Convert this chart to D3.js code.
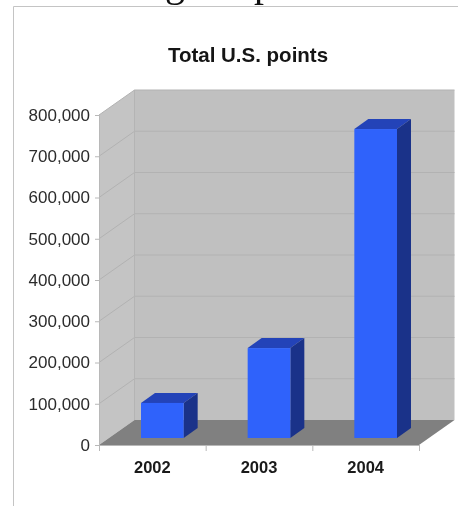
<!DOCTYPE html>
<html>
<head>
<meta charset="utf-8">
<script src="https://cdn.jsdelivr.net/npm/d3@7"></script>
<style>
html, body { margin: 0; padding: 0; background: #fff; overflow: hidden; }
#vis_container { width: 458px; height: 506px; }
</style>
</head>
<body>
<div id="vis_container"></div>
<script>
var years = ["2002", "2003", "2004"];
var points = [85000, 218000, 749000];
var yTicks = [0, 100000, 200000, 300000, 400000, 500000, 600000, 700000, 800000];
var chartTitle = "Total U.S. points";
// what is left of the slide heading, cut off by the top of the picture
var headingLetters = ["g", "p"];

var chart = {};
chart.width = 458;
chart.height = 506;
chart.left = 99;
chart.right = 419;
chart.bottom = 445;
chart.top = 115;
// depth of the box and of the bars, in pixels
chart.depth = {"x": 35.5, "y": 25};
chart.barDepth = {"x": 14, "y": 10};
chart.barInset = {"x": 10, "y": 7};

chart.svg = d3.select("#vis_container").append("svg")
	.attr("width", chart.width)
	.attr("height", chart.height)
	.style("display", "block")
	.style("filter", "blur(0.5px)");

chart.xScale = d3.scaleBand()
	.domain(years)
	.range([chart.left, chart.right])
	.paddingInner(0.6)
	.paddingOuter(0.3);

chart.yScale = d3.scaleLinear()
	.domain([0, 800000])
	.range([chart.bottom, chart.top]);

chart.headingScale = d3.scalePoint()
	.domain(headingLetters)
	.range([165, 254]);

function poly(pts) {
	return pts.map(function(p) { return p.join(","); }).join(" ");
}

chart.svg.selectAll(".heading")
	.data(headingLetters)
	.enter().append("text")
	.attr("class", "heading")
	.attr("x", function(d) { return chart.headingScale(d); })
	.attr("y", -4)
	.attr("font-family", "Liberation Serif")
	.attr("font-size", 40)
	.attr("fill", "#111")
	.text(function(d) { return d; });

// frame of the slide
chart.svg.append("path")
	.attr("d", "M13.5,506V6.5H458")
	.attr("fill", "none")
	.attr("stroke", "#c4c4c4")
	.attr("stroke-width", 1);

chart.svg.append("text")
	.attr("x", 248)
	.attr("y", 62)
	.attr("text-anchor", "middle")
	.attr("font-family", "Liberation Sans")
	.attr("font-weight", "bold")
	.attr("font-size", 20.5)
	.attr("fill", "#151515")
	.text(chartTitle);

// walls and floor
var dx = chart.depth.x, dy = chart.depth.y;

chart.svg.append("polygon")
	.attr("points", poly([[chart.left + dx, chart.top - dy], [chart.right + dx, chart.top - dy], [chart.right + dx, chart.bottom - dy], [chart.left + dx, chart.bottom - dy]]))
	.attr("fill", "#c0c0c0");

chart.svg.append("polygon")
	.attr("points", poly([[chart.left, chart.top], [chart.left + dx, chart.top - dy], [chart.left + dx, chart.bottom - dy], [chart.left, chart.bottom]]))
	.attr("fill", "#c4c4c4");

chart.svg.append("polygon")
	.attr("points", poly([[chart.left, chart.bottom], [chart.right, chart.bottom], [chart.right + dx, chart.bottom - dy], [chart.left + dx, chart.bottom - dy]]))
	.attr("fill", "#808080");

// gridlines run along the left wall and the back wall
chart.svg.selectAll(".grid")
	.data(yTicks.slice(1))
	.enter().append("polyline")
	.attr("class", "grid")
	.attr("points", function(d) {
		var y = chart.yScale(d);
		return poly([[chart.left, y], [chart.left + dx, y - dy], [chart.right + dx, y - dy]]);
	})
	.attr("fill", "none")
	.attr("stroke", "#b2b2b2")
	.attr("stroke-width", 1);

chart.svg.append("line")
	.attr("x1", chart.left + dx)
	.attr("x2", chart.left + dx)
	.attr("y1", chart.top - dy)
	.attr("y2", chart.bottom - dy)
	.attr("stroke", "#b4b4b4");

// axes
chart.yAxis = chart.svg.append("g")
	.attr("transform", "translate(" + chart.left + ",0)")
	.call(d3.axisLeft(chart.yScale).tickValues(yTicks).tickFormat(d3.format(",")).tickSize(4).tickPadding(5));

chart.xAxis = chart.svg.append("g")
	.attr("transform", "translate(0," + chart.bottom + ")")
	.call(d3.axisBottom(d3.scaleLinear().domain([0, years.length]).range([chart.left, chart.right]))
		.ticks(years.length).tickFormat("").tickSize(6));

chart.svg.selectAll(".domain").attr("stroke", "#b8b8b8");
chart.svg.selectAll(".tick line").attr("stroke", "#b8b8b8");
chart.yAxis.selectAll("text")
	.attr("font-family", "Liberation Sans")
	.attr("font-size", 17)
	.attr("fill", "#2b2b2b");

chart.svg.selectAll(".year")
	.data(years)
	.enter().append("text")
	.attr("class", "year")
	.attr("x", function(d) { return chart.xScale(d) + chart.xScale.bandwidth() / 2; })
	.attr("y", 473)
	.attr("text-anchor", "middle")
	.attr("font-family", "Liberation Sans")
	.attr("font-weight", "bold")
	.attr("font-size", 16.5)
	.attr("fill", "#1a1a1a")
	.text(function(d) { return d; });

// bars
chart.bars = chart.svg.selectAll(".bar")
	.data(years.map(function(y, i) { return {year: y, value: points[i]}; }))
	.enter().append("g")
	.attr("class", "bar")
	.attr("transform", "translate(" + chart.barInset.x + "," + (-chart.barInset.y) + ")");

var bx = chart.barDepth.x, by = chart.barDepth.y;

chart.bars.append("polygon")
	.attr("points", function(d) {
		var x0 = chart.xScale(d.year), x1 = x0 + chart.xScale.bandwidth(), y = chart.yScale(d.value);
		return poly([[x0, y], [x0 + bx, y - by], [x1 + bx, y - by], [x1, y]]);
	})
	.attr("fill", "#2343b8");

chart.bars.append("polygon")
	.attr("points", function(d) {
		var x1 = chart.xScale(d.year) + chart.xScale.bandwidth(), y = chart.yScale(d.value);
		return poly([[x1, y], [x1 + bx, y - by], [x1 + bx, chart.bottom - by], [x1, chart.bottom]]);
	})
	.attr("fill", "#1a3289");

chart.bars.append("rect")
	.attr("x", function(d) { return chart.xScale(d.year); })
	.attr("y", function(d) { return chart.yScale(d.value); })
	.attr("width", chart.xScale.bandwidth())
	.attr("height", function(d) { return chart.bottom - chart.yScale(d.value); })
	.attr("fill", "#2f62fb");
</script>
</body>
</html>
